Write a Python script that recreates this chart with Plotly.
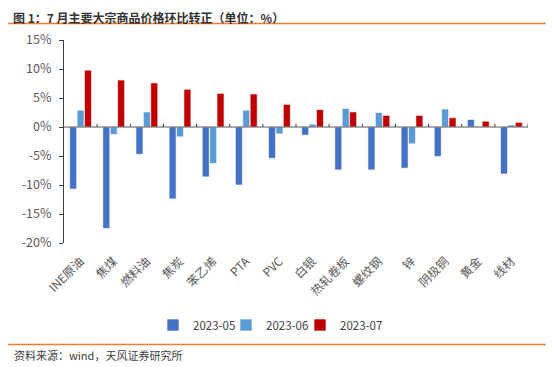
import plotly.graph_objects as go

categories = ["INE原油", "焦煤", "燃料油", "焦炭", "苯乙烯", "PTA", "PVC", "白银",
              "热轧卷板", "螺纹钢", "锌", "阴极铜", "黄金", "线材"]
s_2023_05 = [-10.7, -17.5, -4.7, -12.4, -8.6, -10.0, -5.4, -1.4, -7.4, -7.4, -7.1, -5.1, 1.3, -8.1]
s_2023_06 = [2.9, -1.3, 2.6, -1.7, -6.3, 2.9, -1.2, 0.5, 3.2, 2.5, -2.9, 3.1, 0.1, 0.35]
s_2023_07 = [9.8, 8.1, 7.6, 6.5, 5.8, 5.7, 3.9, 3.0, 2.6, 2.0, 2.0, 1.6, 1.0, 0.8]
series_names = ["2023-05", "2023-06", "2023-07"]
y_ticks = [-20, -15, -10, -5, 0, 5, 10, 15]
y_tick_labels = [f"{v}%" for v in y_ticks]

colors = ["#4472C4", "#5B9BD5", "#C00000"]
FONT = "Noto Sans CJK SC"

# page body has an 8px default margin, so the figure is drawn 8px in from the top-left
OFF = 8
W, H = 554 - OFF, 367 - OFF
L, R, T, B = 64 - OFF, 528 - OFF, 40 - OFF, 243 - OFF
PW, PH = R - L, B - T


def px(x):
    return (x - OFF - L) / PW


def py(y):
    return (B - (y - OFF)) / PH


legend_ids = ["legend", "legend2", "legend3"]
legend_left = [153, 226, 300]

fig = go.Figure()
for name, vals, c, lg in zip(series_names, [s_2023_05, s_2023_06, s_2023_07], colors, legend_ids):
    fig.add_trace(go.Bar(x=categories, y=vals, name=name, marker_color=c, legend=lg,
                         marker_line=dict(color="rgba(255,255,255,0.8)", width=0.8)))

legend_style = dict(orientation="h", xanchor="left", y=py(325), yanchor="middle",
                    font=dict(size=11.5, color="#404040"), itemwidth=30,
                    bgcolor="rgba(0,0,0,0)")
fig.update_layout(
    width=W, height=H,
    margin=dict(l=L, r=W - R, t=T, b=H - B, autoexpand=False),
    paper_bgcolor="white", plot_bgcolor="white",
    barmode="group", bargap=0.33, bargroupgap=0.05,
    font=dict(family=FONT, color="#595959", size=12),
    showlegend=True,
    legend=dict(x=px(legend_left[0]), **legend_style),
    legend2=dict(x=px(legend_left[1]), **legend_style),
    legend3=dict(x=px(legend_left[2]), **legend_style),
)
fig.update_yaxes(range=[-20, 15], tickvals=y_ticks, ticktext=y_tick_labels,
                 showgrid=False, zeroline=False, showline=True, linecolor="#404040",
                 linewidth=1, ticks="outside", ticklen=4, tickcolor="#404040",
                 ticklabelstandoff=5,
                 tickfont=dict(size=12.5, color="#595959"))
fig.update_xaxes(showgrid=False, showline=False, ticks="", tickangle=-45,
                 ticklabelstandoff=8,
                 tickfont=dict(size=12, color="#595959"), range=[-0.5, len(categories) - 0.5])

# zero line with boundary ticks
fig.add_shape(type="line", xref="x", yref="y", x0=-0.5, x1=len(categories) - 0.5, y0=0, y1=0,
              line=dict(color="#595959", width=1.2), layer="above")
for i in range(len(categories)):
    fig.add_shape(type="line", xref="x", yref="y", x0=i + 0.5, x1=i + 0.5, y0=0, y1=0.55,
                  line=dict(color="#404040", width=1), layer="above")

# title and rules
fig.add_annotation(xref="paper", yref="paper", x=px(12), y=py(OFF), xanchor="left",
                   yanchor="top", showarrow=False, borderpad=0,
                   text="<b>图 1：7 月主要大宗商品价格环比转正（单位：%）</b>",
                   font=dict(size=12, color="#333333", family=FONT))
fig.add_shape(type="line", xref="paper", yref="paper", x0=px(6), x1=px(549),
              y0=py(23.5), y1=py(23.5), line=dict(color="#ED7D31", width=1.5))
fig.add_shape(type="line", xref="paper", yref="paper", x0=px(6), x1=px(554),
              y0=py(344.5), y1=py(344.5), line=dict(color="#ED7D31", width=1.5))
fig.add_annotation(xref="paper", yref="paper", x=px(12), y=py(355), xanchor="left",
                   yanchor="middle", showarrow=False,
                   text="资料来源：wind，天风证券研究所",
                   font=dict(size=11, color="#404040", family=FONT))

fig.write_html("out.html")
